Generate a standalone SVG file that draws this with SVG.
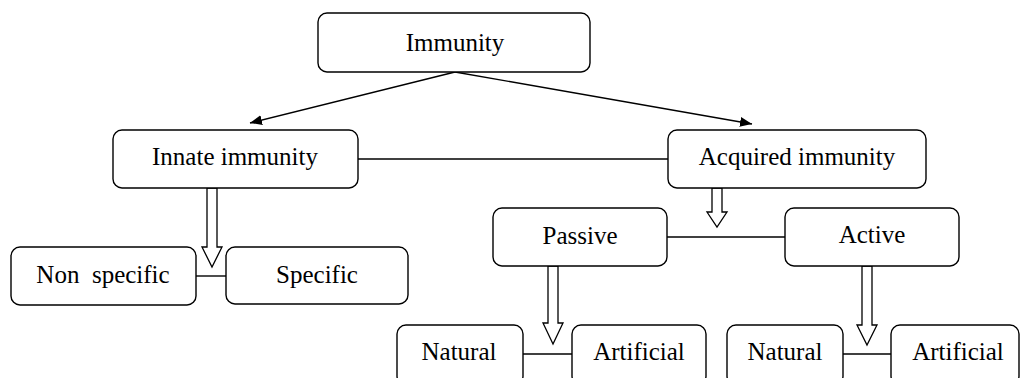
<svg xmlns="http://www.w3.org/2000/svg" width="1021" height="378" viewBox="0 0 1021 378">
<style>
.box{fill:#fff;stroke:#000;stroke-width:1.4}
.ln{stroke:#000;stroke-width:1.4;fill:none}
.hol{fill:#fff;stroke:#000;stroke-width:1.3;stroke-linejoin:miter}
</style>
<defs>
<marker id="ah" viewBox="0 0 12 10" refX="12" refY="5" markerWidth="12" markerHeight="10" markerUnits="userSpaceOnUse" orient="auto">
<path d="M0,0 L12,5 L0,10 z" fill="#000"/>
</marker>
</defs>
<rect width="1021" height="378" fill="#fff"/>
<g id="connectors">
<line class="ln" x1="455" y1="72" x2="250" y2="123" marker-end="url(#ah)"/>
<line class="ln" x1="455" y1="72" x2="752" y2="124" marker-end="url(#ah)"/>
<line class="ln" x1="358" y1="159" x2="668" y2="159"/>
<line class="ln" x1="667" y1="237" x2="785" y2="237"/>
<line class="ln" x1="196" y1="276" x2="226" y2="276"/>
<line class="ln" x1="523" y1="354" x2="572" y2="354"/>
<line class="ln" x1="843" y1="354" x2="891" y2="354"/>
<polygon class="hol" points="207,188 217,188 217,247 222,247 212,267 202,247 207,247"/>
<polygon class="hol" points="712,188 722,188 722,212 727,212 717,227 707,212 712,212"/>
<polygon class="hol" points="548,266 558,266 558,323 563,323 553,344 543,323 548,323"/>
<polygon class="hol" points="862,266 872,266 872,325 877,325 867,345 857,325 862,325"/>
</g>
<g font-family="Liberation Serif, Times New Roman, serif" font-size="25" fill="#000" text-anchor="middle">
<g id="immunity"><rect class="box" x="318" y="13" width="272" height="59" rx="9"/><text x="455" y="51">Immunity</text></g>
<g id="innate"><rect class="box" x="113" y="130" width="245" height="58" rx="9"/><text x="235" y="165">Innate immunity</text></g>
<g id="acquired"><rect class="box" x="668" y="130" width="258" height="58" rx="9"/><text x="797" y="165">Acquired immunity</text></g>
<g id="nonspecific"><rect class="box" x="11" y="247" width="185" height="58" rx="9"/><text x="103" y="283" xml:space="preserve">Non  specific</text></g>
<g id="specific"><rect class="box" x="226" y="247" width="182" height="57" rx="9"/><text x="317" y="283">Specific</text></g>
<g id="passive"><rect class="box" x="493" y="208" width="174" height="58" rx="9"/><text x="580" y="244">Passive</text></g>
<g id="active"><rect class="box" x="785" y="208" width="174" height="58" rx="9"/><text x="872" y="243">Active</text></g>
<g id="natural1"><rect class="box" x="397" y="325" width="126" height="60" rx="9"/><text x="459" y="360">Natural</text></g>
<g id="artificial1"><rect class="box" x="572" y="325" width="134" height="60" rx="9"/><text x="639" y="360">Artificial</text></g>
<g id="natural2"><rect class="box" x="727" y="325" width="116" height="60" rx="9"/><text x="785" y="360">Natural</text></g>
<g id="artificial2"><rect class="box" x="891" y="325" width="128" height="60" rx="9"/><text x="958" y="360">Artificial</text></g>
</g>
</svg>
